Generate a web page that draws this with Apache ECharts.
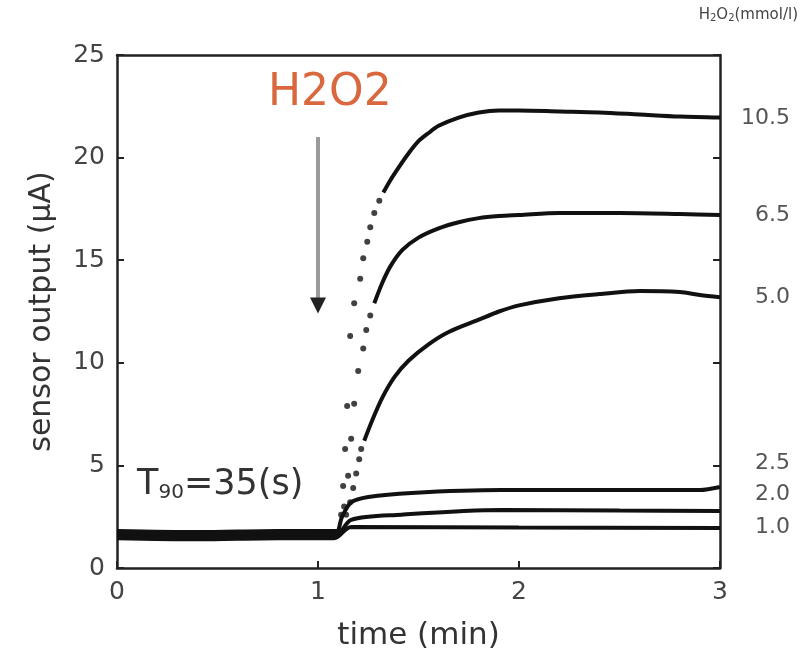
<!DOCTYPE html>
<html>
<head>
<meta charset="utf-8">
<title>sensor output</title>
<script src="https://cdn.jsdelivr.net/npm/echarts@6/dist/echarts.min.js"></script>
<style>
  html, body { margin: 0; padding: 0; background: #fff; }
  #chart { width: 802px; height: 661px; }
</style>
</head>
<body>
<div id="chart"></div>
<script>
// tick labels
var xTicks = [0, 1, 2, 3];
var yTicks = [0, 5, 10, 15, 20, 25];
var concLabels = ['10.5', '6.5', '5.0', '2.5', '2.0', '1.0'];

// solid parts of each curve (null = gap where the fast rise is drawn as dots)
var time105 = [0, 0.4, 0.8, 1.1, 1.12, 1.325, 1.36, 1.4, 1.45, 1.5, 1.55, 1.6, 1.7, 1.8, 1.9, 2.0, 2.2, 2.4, 2.6, 2.8, 3.0];
var val105  = [1.8, 1.75, 1.8, 1.8, null, 18.3, 18.9, 19.5, 20.2, 20.8, 21.2, 21.55, 21.95, 22.2, 22.3, 22.3, 22.25, 22.2, 22.1, 22.0, 21.95];
var time65  = [0, 0.4, 0.8, 1.1, 1.12, 1.28, 1.32, 1.36, 1.42, 1.5, 1.6, 1.7, 1.8, 1.9, 2.0, 2.2, 2.5, 2.8, 3.0];
var val65   = [1.7, 1.7, 1.65, 1.7, null, 12.9, 13.9, 14.7, 15.5, 16.1, 16.55, 16.85, 17.05, 17.15, 17.2, 17.3, 17.3, 17.25, 17.2];
var time50  = [0, 0.4, 0.8, 1.1, 1.12, 1.23, 1.27, 1.32, 1.38, 1.45, 1.55, 1.65, 1.8, 1.9, 2.0, 2.2, 2.4, 2.6, 2.8, 2.9, 3.0];
var val50   = [1.6, 1.65, 1.6, 1.65, null, 6.2, 7.2, 8.3, 9.3, 10.1, 10.9, 11.5, 12.1, 12.5, 12.8, 13.15, 13.35, 13.5, 13.45, 13.3, 13.2];
var time25  = [0, 0.4, 0.8, 1.08, 1.12, 1.165, 1.25, 1.465, 1.915, 2.5, 2.9, 3.0];
var val25   = [1.55, 1.55, 1.5, 1.55, 2.5, 3.2, 3.46, 3.66, 3.8, 3.8, 3.8, 3.95];
var time20  = [0, 0.4, 0.8, 1.08, 1.165, 1.415, 1.915, 2.5, 3.0];
var val20   = [1.5, 1.45, 1.5, 1.5, 2.35, 2.6, 2.83, 2.8, 2.78];
var time10  = [0, 0.4, 0.8, 1.08, 1.165, 2.0, 3.0];
var val10   = [1.45, 1.4, 1.45, 1.45, 2.0, 1.97, 1.95];

// sparse points of the fast rise
var dotT105 = [1.115, 1.125, 1.135, 1.145, 1.16, 1.18, 1.21, 1.225, 1.245, 1.26, 1.28, 1.305];
var dotV105 = [2.6, 4.0, 5.8, 7.9, 11.3, 12.9, 14.1, 15.1, 15.9, 16.6, 17.3, 17.9];
var dotT65  = [1.13, 1.15, 1.165, 1.18, 1.2, 1.225, 1.24, 1.26];
var dotV65  = [3.0, 4.5, 6.3, 8.0, 9.6, 10.7, 11.6, 12.3];
var dotT50  = [1.14, 1.16, 1.175, 1.19, 1.205, 1.215];
var dotV50  = [2.6, 3.2, 3.9, 4.6, 5.3, 5.8];

function pairs(t, v) {
  return t.map(function (x, i) { return [x, v[i] === null ? '-' : v[i]]; });
}

var font = 'DejaVu Sans';
var ink = '#111';

function curve(t, v) {
  return {
    type: 'line', data: pairs(t, v), showSymbol: false, smooth: 0.3,
    connectNulls: false, lineStyle: { color: ink, width: 4 }, silent: true
  };
}
function dots(t, v) {
  return {
    type: 'scatter', data: pairs(t, v), symbolSize: 6,
    itemStyle: { color: ink }, silent: true
  };
}

var chart = echarts.init(document.getElementById('chart'));
var option = {
  animation: false,
  backgroundColor: '#fff',
  grid: { left: 117, right: 82, top: 55, bottom: 93 },
  xAxis: [{
    type: 'value', min: 0, max: 3, interval: 1,
    name: 'time (min)', nameLocation: 'middle', nameGap: 52,
    nameTextStyle: { fontFamily: font, fontSize: 31, color: '#333' },
    axisLine: { lineStyle: { color: '#222', width: 2.5 } },
    axisTick: { inside: true, length: 7, lineStyle: { color: '#222', width: 2 } },
    axisLabel: { fontFamily: font, fontSize: 25, color: '#444', margin: 12,
      formatter: function (v) { return xTicks.indexOf(v) >= 0 ? String(v) : ''; } },
    splitLine: { show: false }
  }, {
    type: 'value', min: 0, max: 3, position: 'top',
    axisLine: { show: true, onZero: false, lineStyle: { color: '#222', width: 2.5 } },
    axisTick: { show: false }, axisLabel: { show: false }, splitLine: { show: false }
  }],
  yAxis: [{
    type: 'value', min: 0, max: 25, interval: 5,
    name: 'sensor output (μA)', nameLocation: 'middle', nameGap: 60,
    nameTextStyle: { fontFamily: font, fontSize: 30, color: '#333' },
    axisLine: { show: true, lineStyle: { color: '#222', width: 2.5 } },
    axisTick: { show: true, inside: true, length: 7, lineStyle: { color: '#222', width: 2 } },
    axisLabel: { fontFamily: font, fontSize: 25, color: '#444', margin: 12,
      formatter: function (v) { return yTicks.indexOf(v) >= 0 ? String(v) : ''; } },
    splitLine: { show: false }
  }, {
    type: 'value', min: 0, max: 25, interval: 5, position: 'right',
    axisLine: { show: true, onZero: false, lineStyle: { color: '#222', width: 2.5 } },
    axisTick: { show: true, inside: true, length: 7, lineStyle: { color: '#222', width: 2 } },
    axisLabel: { show: false }, splitLine: { show: false }
  }],
  series: [
    curve(time105, val105), curve(time65, val65), curve(time50, val50),
    curve(time25, val25), curve(time20, val20), curve(time10, val10),
    dots(dotT105, dotV105), dots(dotT65, dotV65), dots(dotT50, dotV50)
  ]
};
chart.setOption(option);

// annotations placed from data coordinates
function px(t, v) { return chart.convertToPixel({ xAxisIndex: 0, yAxisIndex: 0 }, [t, v]); }

var arrowTop = px(1.0, 21.0), arrowEnd = px(1.0, 12.4);
var labelY = [21.9, 17.2, 13.2, 5.1, 3.6, 2.0];
var rightX = px(3, 0)[0];
var graphics = [
  { type: 'text', left: arrowTop[0] - 50, top: px(0, 24.2)[1],
    style: { text: 'H2O2', fontFamily: font, fontSize: 44, fill: '#d9683f' } },
  { type: 'line', shape: { x1: arrowTop[0], y1: arrowTop[1], x2: arrowEnd[0], y2: arrowEnd[1] - 12 },
    style: { stroke: '#9a9a9a', lineWidth: 4 } },
  { type: 'polygon', shape: { points: [[arrowEnd[0] - 8, arrowEnd[1] - 16], [arrowEnd[0] + 8, arrowEnd[1] - 16], [arrowEnd[0], arrowEnd[1]]] },
    style: { fill: '#222' } },
  { type: 'text', left: px(0.1, 0)[0], top: px(0, 4.9)[1],
    style: { rich: { a: { fontFamily: font, fontSize: 35, fill: '#333' }, s: { fontFamily: font, fontSize: 20, fill: '#333', padding: [15, 0, 0, 0] } },
      text: '{a|T}{s|90}{a|=35(s)}' } },
  { type: 'text', right: 4, top: 8,
    style: { rich: { a: { fontFamily: font, fontSize: 15, fill: '#444' }, s: { fontFamily: font, fontSize: 10, fill: '#444', padding: [6, 0, 0, 0] } },
      text: '{a|H}{s|2}{a|O}{s|2}{a|(mmol/l)}' } }
];
concLabels.forEach(function (lab, i) {
  graphics.push({ type: 'text', x: rightX + 70, y: px(3, labelY[i])[1],
    style: { text: lab, fontFamily: font, fontSize: 22, fill: '#555', align: 'right', verticalAlign: 'middle' } });
});
chart.setOption({ graphic: graphics });
</script>
</body>
</html>
